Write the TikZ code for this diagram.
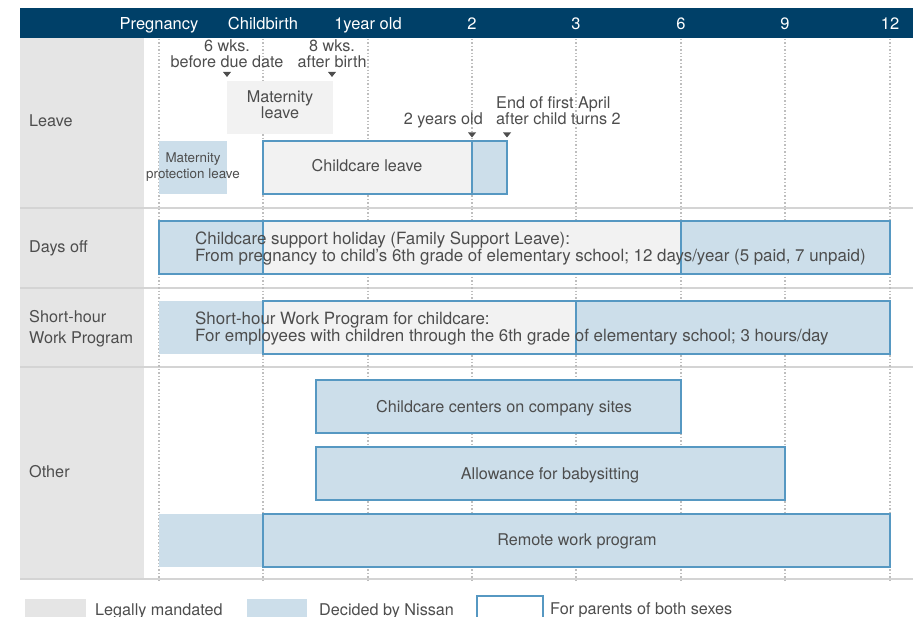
\documentclass[tikz,border=0pt]{standalone}
\usepackage{xcolor}
\usepackage{fontspec}
\setmainfont{TeX Gyre Heros}
\usepackage{tikz}

\definecolor{navy}{RGB}{0,64,104}
\definecolor{nissanblue}{RGB}{204,222,234}
\definecolor{edgeblue}{RGB}{86,152,194}
\definecolor{lawgrey}{RGB}{242,242,242}
\definecolor{colgrey}{RGB}{229,229,229}
\definecolor{rulegrey}{RGB}{212,212,212}
\definecolor{dotgrey}{RGB}{190,190,190}
\definecolor{textgrey}{RGB}{77,77,77}

\tikzset{
  bar/.style={anchor=north west,inner sep=0pt,outer sep=0pt},
  lawbar/.style={bar,fill=lawgrey},
  nissanbar/.style={bar,fill=nissanblue},
  bothbar/.style={draw=edgeblue,line width=1.2pt},
  lbl/.style={inner sep=0pt,text=textgrey,font=\fontsize{16.2}{16}\selectfont},
  head/.style={inner sep=0pt,text=white,font=\fontsize{16.5}{16.5}\selectfont,anchor=base},
  gridline/.style={dotgrey,line width=1.4pt,dash pattern=on 1.4pt off 2pt},
  rowline/.style={rulegrey,line width=1.5pt},
}

\begin{document}
\begin{tikzpicture}[x=1pt,y=1pt,yscale=-1]
\useasboundingbox (0,0) rectangle (919,617);
%Frame
\fill [navy] (20,8) rectangle (913,38);
\fill [colgrey] (20,38) rectangle (144,579);
\foreach \ry in {208,288,367,579}
  \draw [rowline] (20,\ry) -- (913,\ry);
\foreach \gx in {159,263,368,472,576,681,785,890}
  \draw [gridline] (\gx,39) -- (\gx,581);
\foreach \hx/\htext in {159/Pregnancy,263/Childbirth,368/1year old,472/2,576/3,681/6,785/9,890/12}
  \node [head] (h\hx) at (\hx,30) {\htext};
%Leave
\node [lbl,anchor=base west] (leave) at (29,127) {Leave};
\node [lbl,anchor=base,align=center] (wks6) at (227,67.7) {6 wks.\\before due date};
\node [lbl,anchor=base,align=center] (wks8) at (332,67.7) {8 wks.\\after birth};
\node [lawbar,minimum width=106,minimum height=53] (matleave) at (227,81) {};
\node [lbl,anchor=base,align=center] at (280,119) {Maternity\\leave};
\node [nissanbar,minimum width=68,minimum height=53] (matprot) at (159,141) {};
\node [lbl,anchor=base,align=center,font=\fontsize{13.4}{16}\selectfont] at (193,179) {Maternity\\protection leave};
\node [lawbar,bothbar,minimum width=209,minimum height=53] (ccleave) at (263,141) {};
\node [nissanbar,bothbar,minimum width=35,minimum height=53] (ccext) at (472,141) {};
\node [lbl,anchor=base] at (367,171.7) {Childcare leave};
\node [lbl,anchor=base east] (yrs2) at (483,125) {2 years old};
\node [lbl,anchor=base west,align=left] (april) at (496,125) {End of first April\\after child turns 2};
\foreach \mx/\my in {227/72,332/72,472/132.5,507/132.5}
  \fill [textgrey] (\mx-4,\my) -- (\mx+4,\my) -- (\mx,\my+5) -- cycle;
%Days off
\node [lbl,anchor=base west] (daysoff) at (29,252.7) {Days off};
\node [nissanbar,bothbar,minimum width=731,minimum height=53] (holblue) at (159,221) {};
\node [lawbar,bothbar,minimum width=418,minimum height=53] (holgrey) at (263,221) {};
\node [lbl,anchor=base west,align=left,font=\fontsize{16.9}{15.4}\selectfont] at (195,262) {Childcare support holiday (Family Support Leave):\\From pregnancy to child's 6th grade of elementary school; 12 days/year (5 paid, 7 unpaid)};
%Short-hour
\node [lbl,anchor=base west,align=left,font=\fontsize{16.2}{21}\selectfont] (shorthour) at (29,344) {Short-hour\\Work Program};
\node [nissanbar,minimum width=104,minimum height=53] (shpre) at (159,301) {};
\node [lawbar,bothbar,minimum width=313,minimum height=53] (shgrey) at (263,301) {};
\node [nissanbar,bothbar,minimum width=314,minimum height=53] (shblue) at (576,301) {};
\node [lbl,anchor=base west,align=left,font=\fontsize{16.9}{15.7}\selectfont] at (195,341.7) {Short-hour Work Program for childcare:\\For employees with children through the 6th grade of elementary school; 3 hours/day};
%Other
\node [lbl,anchor=base west] (other) at (29,477.7) {Other};
\node [nissanbar,bothbar,minimum width=365,minimum height=53] (centers) at (316,380) {};
\node [lbl,anchor=base] at (504,412.7) {Childcare centers on company sites};
\node [nissanbar,bothbar,minimum width=469,minimum height=53] (babysit) at (316,447) {};
\node [lbl,anchor=base] at (550,479.3) {Allowance for babysitting};
\node [nissanbar,minimum width=104,minimum height=53] (rempre) at (159,514) {};
\node [nissanbar,bothbar,minimum width=627,minimum height=53] (remote) at (263,514) {};
\node [lbl,anchor=base] at (577,546) {Remote work program};
%Legend
\node [bar,fill=colgrey,minimum width=61,minimum height=22] (keylaw) at (25,599) {};
\node [lbl,anchor=base west] at (95,615) {Legally mandated};
\node [bar,fill=nissanblue,minimum width=60,minimum height=22] (keynissan) at (247,599) {};
\node [lbl,anchor=base west] at (319,615) {Decided by Nissan};
\node [bar,bothbar,fill=white,minimum width=66,minimum height=26] (keyboth) at (477,596) {};
\node [lbl,anchor=base west] at (550,614.5) {For parents of both sexes};
\end{tikzpicture}
\end{document}
